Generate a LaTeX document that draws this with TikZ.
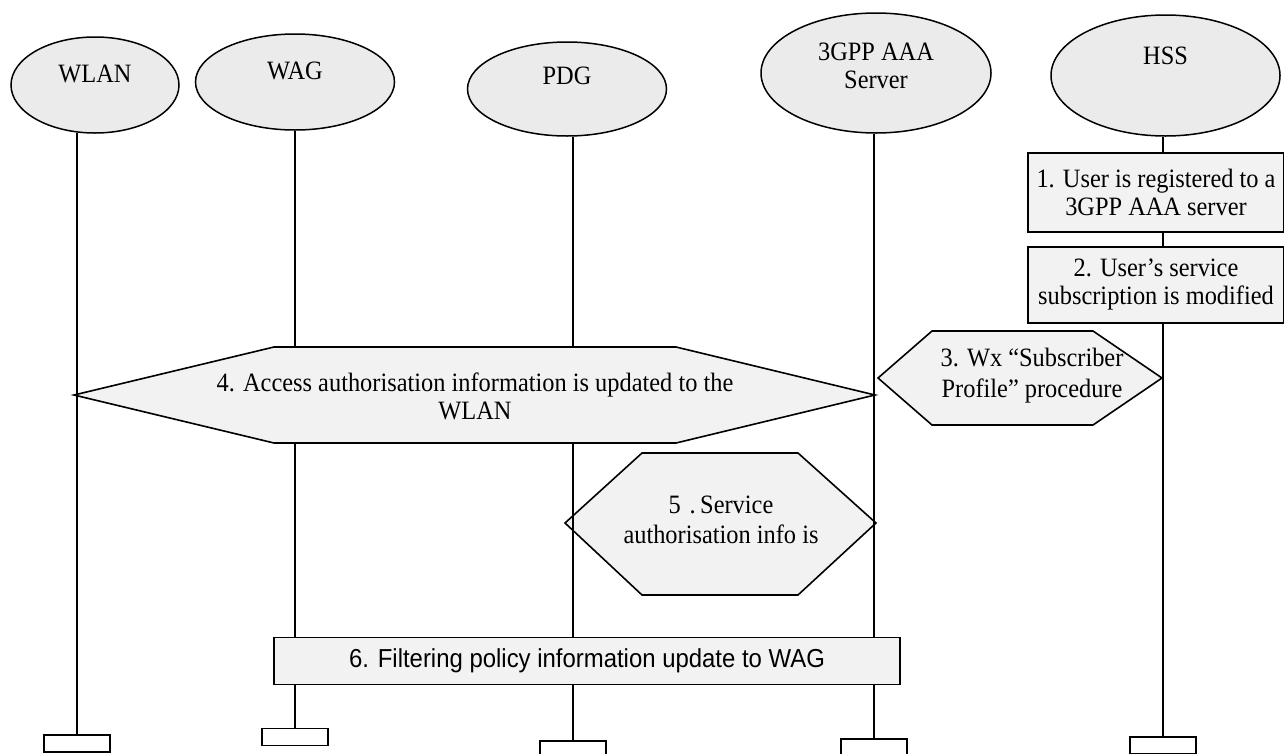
\documentclass[tikz,border=0pt]{standalone}
\usepackage{fontspec}
\setmainfont{Liberation Serif}[FakeStretch=0.92]
\newfontfamily\arialf{Liberation Sans}[FakeStretch=0.92]
\usetikzlibrary{shapes.geometric}
\begin{document}
\begin{tikzpicture}[x=1pt,y=-1pt,
  every node/.style={font=\fontsize{26.5}{28}\selectfont},
  actor/.style={ellipse, draw, line width=1.5pt, fill=black!8, inner sep=0pt},
  stepbox/.style={rectangle, draw, line width=1.6pt, fill=black!5, align=center, inner sep=0pt},
  hexa/.style={draw, line width=1.6pt, fill=black!5, line join=miter},
  lifeline/.style={line width=1.3pt},
  endbox/.style={rectangle, draw, line width=1.3pt, fill=white, minimum width=66pt, minimum height=17pt, inner sep=0pt},
  lbl/.style={align=center, inner sep=0pt}]
\useasboundingbox (0,0) rectangle (1284,753);
\clip (0,0) rectangle (1284,753);
% actors
\node[actor, minimum width=168pt, minimum height=96pt] (wlan) at (95,85) {};
\node[actor, minimum width=199pt, minimum height=96pt] (wag) at (295,82) {};
\node[actor, minimum width=199pt, minimum height=94pt] (pdg) at (567,89) {};
\node[actor, minimum width=230pt, minimum height=120pt] (aaa) at (876,73) {};
\node[actor, minimum width=229pt, minimum height=121pt] (hss) at (1165.5,75.5) {};
\node[lbl] (wlanT) at (95,74) {WLAN};
\node[lbl] (wagT) at (295,71) {WAG};
\node[lbl] (pdgT) at (567,76) {PDG};
\node[lbl] (aaaT) at (876,66) {3GPP AAA\\Server};
\node[lbl] (hssT) at (1165.5,56) {HSS};
% end boxes
\node[endbox] (wlanE) at (77,743.5) {};
\node[endbox] (wagE) at (295,737) {};
\node[endbox] (pdgE) at (573,749.5) {};
\node[endbox] (aaaE) at (874,747.5) {};
\node[endbox] (hssE) at (1163,745.5) {};
% step 5 (lifeline visible through it)
\draw[hexa] (565,523) -- (642,453) -- (798,453) -- (876,523) -- (798,595) -- (642,595) -- cycle;
\node[lbl, font=\fontsize{26.5}{30}\selectfont] (s5) at (721,520) {5\,\,.\,Service\\authorisation info is};
% lifelines
\draw[lifeline] (wlanE.north |- wlan.south) ++(0,-1) -- (wlanE.north);
\draw[lifeline] (wag.south) -- (wagE.north);
\draw[lifeline] (pdgE.north |- pdg.south) -- (pdgE.north);
\draw[lifeline] (aaaE.north |- aaa.south) -- (aaaE.north);
\draw[lifeline] (hssE.north |- hss.south) -- (hssE.north);
% step 1 and 2
\node[stepbox, minimum width=256pt, minimum height=79pt] (s1) at (1156,192.5) {1. User is registered to a\\3GPP AAA server};
\node[stepbox, minimum width=256pt, minimum height=76pt] (s2) at (1156,285) {2. User’s service\\subscription is modified};
% step 3
\draw[hexa] (878,378) -- (932,331) -- (1093,331) -- (1162,378) -- (1093,425) -- (932,425) -- cycle;
\node[lbl, font=\fontsize{26.5}{31}\selectfont] (s3) at (1032,376) {3. Wx “Subscriber\\Profile” procedure};
% step 4
\draw[hexa] (74,395) -- (274,347) -- (676,347) -- (875,395) -- (676,443) -- (274,443) -- cycle;
\node[lbl] (s4) at (475,396) {4. Access authorisation information is updated to the\\WLAN};
% step 6
\node[stepbox, minimum width=626pt, minimum height=47pt, font=\arialf\fontsize{26}{28}\selectfont] (s6) at (587,661) {6. Filtering policy information update to WAG};
\end{tikzpicture}
\end{document}
